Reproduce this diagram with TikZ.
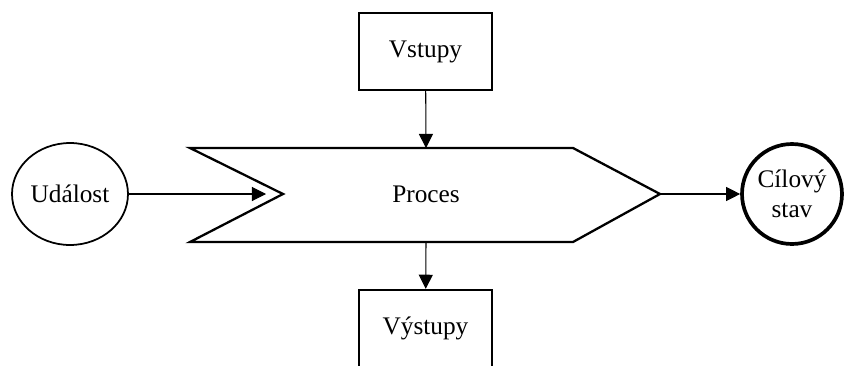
\documentclass[tikz,border=0pt]{standalone}
\usepackage{fontspec}
\setmainfont{Liberation Serif}
\usetikzlibrary{arrows.meta,shapes.geometric}

\tikzset{
 box/.style={draw,line width=1.4pt,minimum width=2.66cm,minimum height=1.54cm},
 event/.style={draw,ellipse,line width=1pt,minimum width=2.32cm,minimum height=2.04cm,inner sep=0pt},
 goal/.style={draw,circle,line width=2.1pt,minimum size=2cm,inner sep=0pt,align=center},
 flow/.style={line width=0.6pt,-{Triangle[length=8pt,width=8pt]}}
}

\begin{document}
\begin{tikzpicture}[x=0.02cm,y=-0.02cm,font=\fontsize{14.4}{17}\selectfont]
 \useasboundingbox (0,0) rectangle (851,365);
 \clip (0,0) rectangle (851,365);
 % process arrow shape
 \coordinate (ptop) at (426,148);
 \coordinate (pbot) at (426,242);
 \coordinate (notch) at (283,194);
 \coordinate (tip) at (660,194);
 \draw[line width=1.3pt,line join=miter] (190,148)--(573,148)--(tip)--(573,242)--(190,242)--(notch)--cycle;
 \node (proces) at (426,194) {Proces};
 % nodes round it
 \node[event] (udalost) at (70,194) {Událost};
 \node[goal] (cil) at (792,194) {Cílový\\stav};
 \node[box] (vstupy) at (425.5,51.5) {Vstupy};
 \node[box] (vystupy) at (425.5,328.5) {Výstupy};
 % connectors
 \draw[flow,shorten >=0.34cm] (udalost) -- (notch);
 \draw[flow] (tip) -- (cil);
 \draw[flow] (vstupy) -- (ptop);
 \draw[flow] (pbot) -- (vystupy);
\end{tikzpicture}
\end{document}
